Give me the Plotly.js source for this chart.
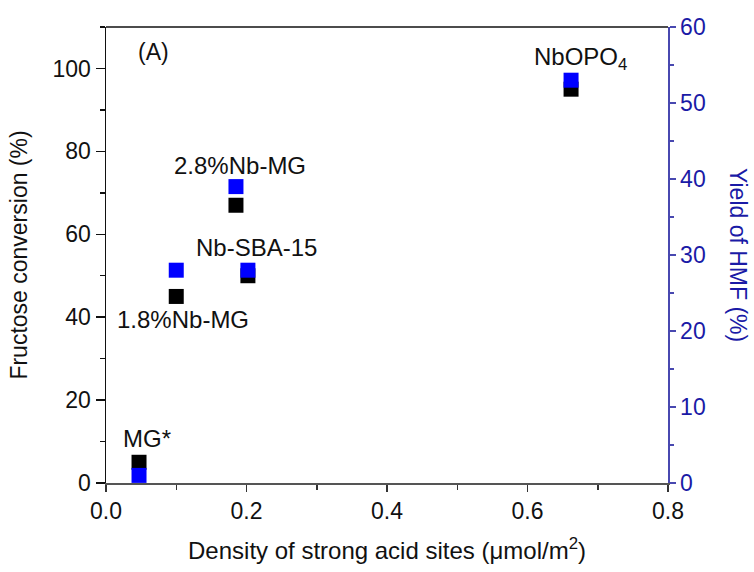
<!DOCTYPE html>
<html>
<head>
<meta charset="utf-8">
<script src="https://cdn.plot.ly/plotly-3.0.1.min.js"></script>
<style>html,body{margin:0;padding:0;background:#fff;}#chart{width:754px;height:572px;}</style>
</head>
<body>
<div id="chart"></div>
<script>
// Data
const samples = ["MG*", "1.8%Nb-MG", "2.8%Nb-MG", "Nb-SBA-15", "NbOPO<sub>4</sub>"];
const acidDensity = [0.047, 0.100, 0.185, 0.202, 0.662];   // μmol/m²
const fructoseConversion = [5, 45, 67, 50, 95];            // %
const hmfYield = [1, 28, 39, 28, 53];                      // %
const xTicks = [0.0, 0.2, 0.4, 0.6, 0.8];
const yLeftTicks = [0, 20, 40, 60, 80, 100];
const yRightTicks = [0, 10, 20, 30, 40, 50, 60];

const FONT = "Arial, 'Liberation Sans', sans-serif";
const BLUE_AX = "#4848b0";
const BLUE_TXT = "#1a1aa6";

const traces = [
  {
    x: acidDensity, y: fructoseConversion, type: "scatter", mode: "markers",
    marker: {symbol: "square", size: 15, color: "#000000", line: {width: 0}},
    yaxis: "y", showlegend: false, cliponaxis: false
  },
  {
    x: acidDensity, y: hmfYield, type: "scatter", mode: "markers",
    marker: {symbol: "square", size: 15, color: "#0000ff", line: {width: 0}},
    yaxis: "y2", showlegend: false, cliponaxis: false
  }
];

// label offsets (pixels) relative to each sample's HMF-yield marker
const labelOffsets = [
  {dx: 8, dy: 37},
  {dx: 7, dy: -49},
  {dx: 4, dy: 21},
  {dx: 9, dy: 23},
  {dx: 9, dy: 22}
];

const annotations = samples.map((s, i) => ({
  x: acidDensity[i], y: hmfYield[i], xref: "x", yref: "y2",
  xanchor: "center", yanchor: "middle",
  text: s, showarrow: false,
  xshift: labelOffsets[i].dx, yshift: labelOffsets[i].dy,
  font: {family: FONT, size: 24, color: "#111"}
}));
annotations.push({
  xref: "paper", yref: "paper", x: 0.085, y: 0.945, xanchor: "center", yanchor: "middle",
  text: "(A)", showarrow: false, font: {family: FONT, size: 23, color: "#111"}
});
annotations.push({
  xref: "paper", yref: "paper", x: 1.0, xshift: 70, y: 0.5, xanchor: "center", yanchor: "middle",
  text: "Yield of HMF (%)", textangle: 90, showarrow: false,
  font: {family: FONT, size: 23, color: BLUE_TXT}
});

const layout = {
  width: 754, height: 572,
  margin: {l: 106, r: 86, t: 27, b: 89},
  paper_bgcolor: "#fff", plot_bgcolor: "#fff",
  font: {family: FONT, size: 23, color: "#111"},
  xaxis: {
    range: [0, 0.8], tickvals: xTicks, ticktext: xTicks.map(v => v.toFixed(1)),
    showgrid: false, zeroline: false,
    showline: true, linecolor: "#555", linewidth: 1.5, mirror: false,
    ticks: "outside", ticklen: 7, tickwidth: 1.5, tickcolor: "#333",
    minor: {dtick: 0.1, ticks: "outside", ticklen: 5, tickwidth: 1.5, tickcolor: "#333"},
    tickfont: {family: FONT, size: 23, color: "#111"},
    title: {text: "Density of strong acid sites (\u03bcmol/m<sup>2</sup>)", standoff: 19,
            font: {family: FONT, size: 24, color: "#111"}}
  },
  yaxis: {
    range: [0, 110], tickvals: yLeftTicks,
    showgrid: false, zeroline: false,
    showline: true, linecolor: "#111", linewidth: 1.5,
    ticks: "outside", ticklen: 9, tickwidth: 1.5, tickcolor: "#111",
    minor: {dtick: 10, ticks: "outside", ticklen: 5, tickwidth: 1.5, tickcolor: "#111"},
    tickfont: {family: FONT, size: 23, color: "#111"},
    title: {text: "Fructose conversion (%)", standoff: 18,
            font: {family: FONT, size: 23, color: "#111"}}
  },
  yaxis2: {
    overlaying: "y", side: "right", range: [0, 60], tickvals: yRightTicks,
    showgrid: false, zeroline: false,
    showline: true, linecolor: BLUE_AX, linewidth: 1.5,
    ticks: "outside", ticklen: 6, tickwidth: 1.5, tickcolor: BLUE_AX,
    minor: {dtick: 5, ticks: "outside", ticklen: 4, tickwidth: 1.5, tickcolor: BLUE_AX},
    tickfont: {family: FONT, size: 23, color: BLUE_TXT}
  },
  shapes: [
    {type: "line", xref: "paper", yref: "paper", x0: 0, x1: 1, y0: 1, y1: 1,
     line: {color: "#111", width: 1.5}}
  ],
  annotations: annotations
};

Plotly.newPlot("chart", traces, layout, {displayModeBar: false, staticPlot: true});
</script>
</body>
</html>
